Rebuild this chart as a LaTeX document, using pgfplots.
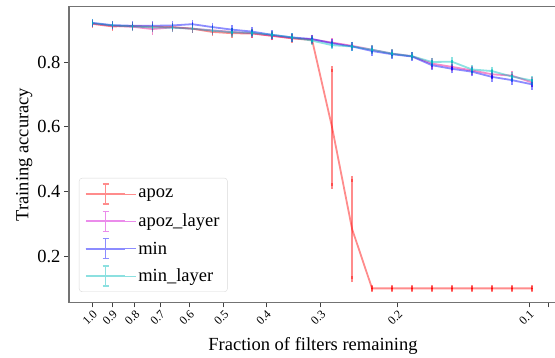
\documentclass[border=0pt]{standalone}
\usepackage{fontspec}
\setmainfont{Liberation Serif}
\usepackage{pgfplots}
\usepackage{pgfplotstable}
\pgfplotsset{compat=1.18}

\pgfplotstableread{
x y e
1        0.918 0.003
0.9      0.910 0.004
0.81     0.911 0.004
0.729    0.909 0.004
0.6561   0.908 0.004
0.59049  0.903 0.004
0.531441 0.893 0.004
0.478297 0.889 0.006
0.430467 0.888 0.004
0.387420 0.881 0.004
0.348678 0.873 0.004
0.313811 0.868 0.004
0.282430 0.598 0.180
0.254187 0.284 0.155
0.228768 0.100 0.001
0.205891 0.100 0.001
0.185302 0.100 0.001
0.166772 0.100 0.001
0.150095 0.100 0.001
0.135085 0.100 0.001
0.121577 0.100 0.001
0.109419 0.100 0.001
0.098477 0.100 0.001
}\apoz

\pgfplotstableread{
x y e
1        0.919 0.003
0.9      0.912 0.004
0.81     0.909 0.005
0.729    0.902 0.008
0.6561   0.907 0.005
0.59049  0.903 0.004
0.531441 0.898 0.004
0.478297 0.893 0.004
0.430467 0.889 0.004
0.387420 0.881 0.005
0.348678 0.874 0.004
0.313811 0.870 0.004
0.282430 0.860 0.004
0.254187 0.850 0.004
0.228768 0.838 0.004
0.205891 0.826 0.004
0.185302 0.818 0.004
0.166772 0.795 0.008
0.150095 0.785 0.005
0.135085 0.774 0.004
0.121577 0.762 0.004
0.109419 0.758 0.005
0.098477 0.737 0.006
}\apozlayer

\pgfplotstableread{
x y e
1        0.921 0.003
0.9      0.914 0.004
0.81     0.912 0.004
0.729    0.912 0.004
0.6561   0.913 0.004
0.59049  0.917 0.003
0.531441 0.908 0.004
0.478297 0.900 0.004
0.430467 0.894 0.004
0.387420 0.884 0.005
0.348678 0.876 0.004
0.313811 0.871 0.004
0.282430 0.858 0.004
0.254187 0.848 0.005
0.228768 0.834 0.005
0.205891 0.824 0.004
0.185302 0.817 0.004
0.166772 0.790 0.006
0.150095 0.779 0.005
0.135085 0.770 0.005
0.121577 0.754 0.006
0.109419 0.744 0.005
0.098477 0.731 0.007
}\minp

\pgfplotstableread{
x y e
1        0.920 0.003
0.9      0.913 0.003
0.81     0.910 0.004
0.729    0.907 0.004
0.6561   0.906 0.004
0.59049  0.903 0.004
0.531441 0.897 0.004
0.478297 0.892 0.004
0.430467 0.890 0.004
0.387420 0.884 0.004
0.348678 0.876 0.004
0.313811 0.866 0.004
0.282430 0.852 0.004
0.254187 0.848 0.004
0.228768 0.838 0.004
0.205891 0.826 0.004
0.185302 0.818 0.004
0.166772 0.800 0.004
0.150095 0.801 0.004
0.135085 0.777 0.004
0.121577 0.772 0.004
0.109419 0.755 0.004
0.098477 0.743 0.004
}\minlayer

\definecolor{mcyan}{rgb}{0,0.75,0.75}
\definecolor{lred}{rgb}{1,0.55,0.55}
\definecolor{lmag}{rgb}{0.92,0.55,0.92}
\definecolor{lblue}{rgb}{0.55,0.55,1}
\definecolor{lcyan}{rgb}{0.55,0.88,0.88}

\pgfplotsset{
  ebimg/.style={legend image code/.code={
    \path (0pt,0pt) circle (0.01pt);
    \draw[#1, line width=1.4pt] (19.5pt,-10pt) -- (19.5pt,10pt);
    \draw[#1, line width=1.4pt] (16.5pt,-10pt) -- (22.5pt,-10pt) (16.5pt,10pt) -- (22.5pt,10pt);
    \draw[#1, line width=1.8pt] (0pt,0pt) -- (39pt,0pt);
    \path (0pt,0pt) -- (50pt,0pt);}},
}

\begin{document}
\begin{tikzpicture}
\begin{axis}[
  at={(0,0)}, anchor=south west,
  scale only axis, width=488pt, height=295.6pt,
  xmode=log, x dir=reverse,
  xmin=0.08625, xmax=1.131,
  ymin=0.057, ymax=0.971,
  xtick={1,0.9,0.8,0.7,0.6,0.5,0.4,0.3,0.2,0.1,0.09},
  xticklabels={1.0,0.9,0.8,0.7,0.6,0.5,0.4,0.3,0.2,0.1,},
  minor xtick={},
  ytick={0.2,0.4,0.6,0.8},
  yticklabels={0.2,0.4,0.6,0.8},
  xtick pos=lower, ytick pos=left,
  tick align=outside, major tick length=5pt,
  tick style={black!75, line width=0.9pt},
  axis line style={black!55, line width=1.2pt},
  /pgf/number format/assume math mode=true,
  x tick label style={rotate=45, anchor=north east, font=\fontsize{12}{12}\selectfont, inner sep=1.5pt},
  y tick label style={font=\fontsize{18.5}{20}\selectfont},
  xlabel={Fraction of filters remaining},
  ylabel={Training accuracy},
  label style={font=\fontsize{18.5}{20}\selectfont},
  xlabel style={yshift=-6pt},
  ylabel style={yshift=-2pt},
  legend style={at={(axis description cs:0.0205,0.035)}, anchor=south west, draw=black!15, rounded corners=3pt,
     fill=white, font=\fontsize{18.5}{20}\selectfont, row sep=6pt, inner xsep=6pt, inner ysep=5pt},
  legend cell align=left,
  error bars/error bar style={line width=1.4pt},
  error bars/error mark options={mark size=3pt, line width=1.4pt},
]
\addplot[red, opacity=0.45, line width=1.8pt, mark=none, forget plot, error bars/.cd, y dir=both, y explicit]
  table[x=x, y=y, y error=e]{\apoz};
\addplot[magenta, opacity=0.45, line width=1.8pt, mark=none, forget plot, error bars/.cd, y dir=both, y explicit]
  table[x=x, y=y, y error=e]{\apozlayer};
\addplot[blue, opacity=0.45, line width=1.8pt, mark=none, forget plot, error bars/.cd, y dir=both, y explicit]
  table[x=x, y=y, y error=e]{\minp};
\addplot[mcyan, opacity=0.45, line width=1.8pt, mark=none, forget plot, error bars/.cd, y dir=both, y explicit]
  table[x=x, y=y, y error=e]{\minlayer};
\addlegendimage{ebimg, lred}
\addlegendentry{apoz}
\addlegendimage{ebimg, lmag}
\addlegendentry{apoz\_layer}
\addlegendimage{ebimg, lblue}
\addlegendentry{min}
\addlegendimage{ebimg, lcyan}
\addlegendentry{min\_layer}
\end{axis}
\pgfresetboundingbox
\path (-69pt,-55.7pt) rectangle (486pt,302.3pt);
\end{tikzpicture}
\end{document}
